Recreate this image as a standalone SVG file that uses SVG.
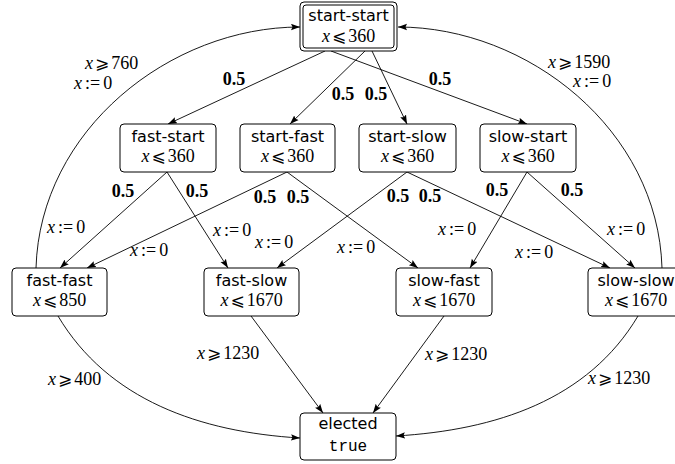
<svg xmlns="http://www.w3.org/2000/svg" width="675" height="464" viewBox="0 0 675 464">
<defs>
<marker id="ah" markerUnits="userSpaceOnUse" markerWidth="10" markerHeight="8" refX="9" refY="3.5" orient="auto">
<path d="M0,0.3 L9,3.5 L0,6.7 L1.5,3.5 z" fill="#000"/>
</marker>
<style>
.box{fill:#fff;stroke:#000;stroke-width:1}
.nm{font-family:"DejaVu Sans",sans-serif;font-size:16px;text-anchor:middle;fill:#000}
.mt{font-family:"Liberation Serif",serif;font-size:18px;text-anchor:middle;fill:#000}
.lb{font-family:"Liberation Serif",serif;font-size:18px;fill:#000}
.b{font-family:"Liberation Serif",serif;font-size:18px;font-weight:bold;text-anchor:middle;fill:#000}
.tt{font-family:"Liberation Mono",monospace;font-size:16px;text-anchor:middle;fill:#000}
.i{font-style:italic}
.s{font-family:"DejaVu Sans",sans-serif;font-size:17px}
.e{fill:none;stroke:#000;stroke-width:0.9;marker-end:url(#ah)}
</style>
</defs>
<rect width="675" height="464" fill="#fff"/>

<g id="connectors">
<line class="e" x1="325" y1="51" x2="168" y2="124"/>
<line class="e" x1="365" y1="51" x2="290" y2="124"/>
<line class="e" x1="372" y1="51" x2="407" y2="124"/>
<line class="e" x1="331" y1="51" x2="527" y2="124"/>
<line class="e" x1="167" y1="172" x2="60" y2="268"/>
<line class="e" x1="167" y1="172" x2="228" y2="268"/>
<line class="e" x1="287" y1="172" x2="87" y2="268"/>
<line class="e" x1="287" y1="172" x2="418" y2="268"/>
<line class="e" x1="407" y1="172" x2="277" y2="268"/>
<line class="e" x1="407" y1="172" x2="610" y2="268"/>
<line class="e" x1="527" y1="172" x2="470" y2="268"/>
<line class="e" x1="527" y1="172" x2="635" y2="268"/>
<path class="e" d="M36,268 C40,130 170,27 300,27"/>
<path class="e" d="M662,268 C658,130 528,27 398,27"/>
<path class="e" d="M58,316 C108,400 200,432 300,438"/>
<path class="e" d="M638,316 C588,400 496,430 396,436"/>
<line class="e" x1="251" y1="316" x2="323" y2="413"/>
<line class="e" x1="444" y1="316" x2="373" y2="413"/>

<text class="b" x="234" y="85">0.5</text>
<text class="b" x="343" y="100">0.5</text>
<text class="b" x="376" y="100">0.5</text>
<text class="b" x="440" y="85">0.5</text>
<text class="b" x="123" y="197">0.5</text>
<text class="b" x="197" y="197">0.5</text>
<text class="b" x="265" y="203">0.5</text>
<text class="b" x="298" y="203">0.5</text>
<text class="b" x="398" y="202">0.5</text>
<text class="b" x="430" y="202">0.5</text>
<text class="b" x="497" y="196">0.5</text>
<text class="b" x="572" y="196">0.5</text>

<text class="lb" x="85" y="69"><tspan class="i">x</tspan><tspan class="s" dx="2">⩾</tspan><tspan dx="2">760</tspan></text>
<text class="lb" x="74" y="89"><tspan class="i">x</tspan><tspan dx="3">:=</tspan><tspan dx="3">0</tspan></text>
<text class="lb" x="548" y="68"><tspan class="i">x</tspan><tspan class="s" dx="2">⩾</tspan><tspan dx="2">1590</tspan></text>
<text class="lb" x="573" y="87"><tspan class="i">x</tspan><tspan dx="3">:=</tspan><tspan dx="3">0</tspan></text>

<text class="lb" x="47" y="233"><tspan class="i">x</tspan><tspan dx="3">:=</tspan><tspan dx="3">0</tspan></text>
<text class="lb" x="130" y="256"><tspan class="i">x</tspan><tspan dx="3">:=</tspan><tspan dx="3">0</tspan></text>
<text class="lb" x="213" y="236"><tspan class="i">x</tspan><tspan dx="3">:=</tspan><tspan dx="3">0</tspan></text>
<text class="lb" x="255" y="248"><tspan class="i">x</tspan><tspan dx="3">:=</tspan><tspan dx="3">0</tspan></text>
<text class="lb" x="337" y="253"><tspan class="i">x</tspan><tspan dx="3">:=</tspan><tspan dx="3">0</tspan></text>
<text class="lb" x="438" y="235"><tspan class="i">x</tspan><tspan dx="3">:=</tspan><tspan dx="3">0</tspan></text>
<text class="lb" x="515" y="258"><tspan class="i">x</tspan><tspan dx="3">:=</tspan><tspan dx="3">0</tspan></text>
<text class="lb" x="607" y="235"><tspan class="i">x</tspan><tspan dx="3">:=</tspan><tspan dx="3">0</tspan></text>

<text class="lb" x="48" y="385"><tspan class="i">x</tspan><tspan class="s" dx="2">⩾</tspan><tspan dx="2">400</tspan></text>
<text class="lb" x="197" y="359"><tspan class="i">x</tspan><tspan class="s" dx="2">⩾</tspan><tspan dx="2">1230</tspan></text>
<text class="lb" x="425" y="360"><tspan class="i">x</tspan><tspan class="s" dx="2">⩾</tspan><tspan dx="2">1230</tspan></text>
<text class="lb" x="588" y="384"><tspan class="i">x</tspan><tspan class="s" dx="2">⩾</tspan><tspan dx="2">1230</tspan></text>
</g>

<g id="start-start">
<rect class="box" x="300" y="2" width="97" height="49" rx="4"/>
<rect class="box" x="303" y="5" width="91" height="43" rx="3"/>
<text class="nm" x="348.5" y="21">start-start</text>
<text class="mt" x="348.5" y="42"><tspan class="i">x</tspan><tspan class="s" dx="2">⩽</tspan><tspan dx="2">360</tspan></text>
</g>

<g id="fast-start">
<rect class="box" x="120" y="124" width="96" height="48" rx="4"/>
<text class="nm" x="168" y="142">fast-start</text>
<text class="mt" x="168" y="162"><tspan class="i">x</tspan><tspan class="s" dx="2">⩽</tspan><tspan dx="2">360</tspan></text>
</g>

<g id="start-fast">
<rect class="box" x="240" y="124" width="95" height="48" rx="4"/>
<text class="nm" x="287.5" y="142">start-fast</text>
<text class="mt" x="287.5" y="162"><tspan class="i">x</tspan><tspan class="s" dx="2">⩽</tspan><tspan dx="2">360</tspan></text>
</g>

<g id="start-slow">
<rect class="box" x="359" y="124" width="97" height="48" rx="4"/>
<text class="nm" x="407.5" y="142">start-slow</text>
<text class="mt" x="407.5" y="162"><tspan class="i">x</tspan><tspan class="s" dx="2">⩽</tspan><tspan dx="2">360</tspan></text>
</g>

<g id="slow-start">
<rect class="box" x="480" y="124" width="96" height="48" rx="4"/>
<text class="nm" x="528" y="142">slow-start</text>
<text class="mt" x="528" y="162"><tspan class="i">x</tspan><tspan class="s" dx="2">⩽</tspan><tspan dx="2">360</tspan></text>
</g>

<g id="fast-fast">
<rect class="box" x="12" y="268" width="95" height="48" rx="4"/>
<text class="nm" x="59.5" y="286">fast-fast</text>
<text class="mt" x="59.5" y="306"><tspan class="i">x</tspan><tspan class="s" dx="2">⩽</tspan><tspan dx="2">850</tspan></text>
</g>

<g id="fast-slow">
<rect class="box" x="204" y="268" width="95" height="48" rx="4"/>
<text class="nm" x="251.5" y="286">fast-slow</text>
<text class="mt" x="251.5" y="306"><tspan class="i">x</tspan><tspan class="s" dx="2">⩽</tspan><tspan dx="2">1670</tspan></text>
</g>

<g id="slow-fast">
<rect class="box" x="396" y="268" width="96" height="48" rx="4"/>
<text class="nm" x="444" y="286">slow-fast</text>
<text class="mt" x="444" y="306"><tspan class="i">x</tspan><tspan class="s" dx="2">⩽</tspan><tspan dx="2">1670</tspan></text>
</g>

<g id="slow-slow">
<rect class="box" x="588" y="268" width="96" height="48" rx="4"/>
<text class="nm" x="636" y="286">slow-slow</text>
<text class="mt" x="636" y="306"><tspan class="i">x</tspan><tspan class="s" dx="2">⩽</tspan><tspan dx="2">1670</tspan></text>
</g>

<g id="elected">
<rect class="box" x="300" y="413" width="96" height="47" rx="4"/>
<text class="nm" x="348" y="429">elected</text>
<text class="tt" x="348" y="451">true</text>
</g>
</svg>
